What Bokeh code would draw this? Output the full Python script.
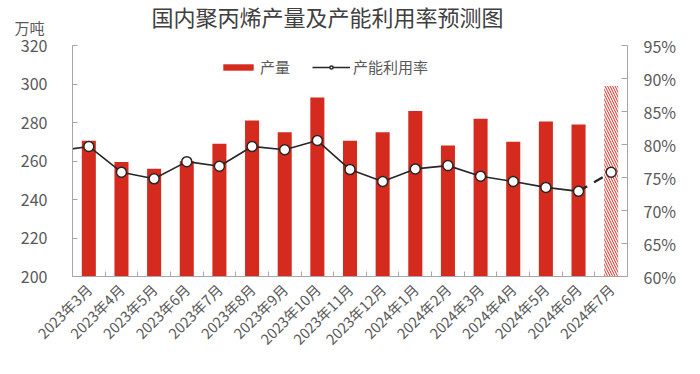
import math
from bokeh.plotting import figure
from bokeh.models import (Range1d, LinearAxis, FixedTicker, Legend, LegendItem,
                          Label, ColumnDataSource, PrintfTickFormatter)
from bokeh.embed import file_html
from bokeh.resources import INLINE

# ---- data ----
months = ["2023年3月", "2023年4月", "2023年5月", "2023年6月", "2023年7月", "2023年8月",
          "2023年9月", "2023年10月", "2023年11月", "2023年12月", "2024年1月", "2024年2月",
          "2024年3月", "2024年4月", "2024年5月", "2024年6月", "2024年7月"]
output = [270.5, 259.5, 256, 260, 269, 281, 275, 293, 270.5, 275, 286, 268,
          282, 270, 280.5, 279, 299]
util = [79.7, 75.8, 74.8, 77.4, 76.7, 79.7, 79.2, 80.6, 76.2, 74.4, 76.3, 76.8,
        75.2, 74.4, 73.5, 72.9, 75.8]
util_prev = 79.0          # previous month (off-chart, only the line enters from the left)
n_actual = 16             # last month is a forecast
left_ticks = [200, 220, 240, 260, 280, 300, 320]
right_ticks = [60, 65, 70, 75, 80, 85, 90, 95]

FONT = "Noto Sans CJK SC"
HDR_FONT = "Lato, 'Noto Sans CJK SC'"
RED = "#D52B1E"
GRAY_TXT = "#595959"
AXIS_COL = "#A6A6A6"

xs = list(range(len(months)))

p = figure(width=684, height=358, output_backend="svg", toolbar_location=None,
           x_range=Range1d(-0.5, len(months) - 0.5), y_range=Range1d(200, 320),
           min_border_left=72, min_border_right=57, min_border_top=45, min_border_bottom=82)
p.extra_y_ranges = {"pct": Range1d(60, 95)}
p.outline_line_color = None
p.xgrid.visible = False
p.ygrid.visible = False
p.background_fill_color = "white"
p.border_fill_color = "white"

# bars
src_a = ColumnDataSource(dict(x=xs[:n_actual], y=output[:n_actual]))
src_f = ColumnDataSource(dict(x=xs[n_actual:], y=output[n_actual:]))
bars = p.vbar(x="x", top="y", bottom=200, width=0.43, source=src_a,
              fill_color=RED, line_color=None)
p.vbar(x="x", top="y", bottom=200, width=0.43, source=src_f,
       fill_color="white", line_color=None, hatch_pattern="left_diagonal_line",
       hatch_color=RED, hatch_scale=5, hatch_weight=1)

# utilisation line
line_x = [-1] + xs[:n_actual]
line_y = [util_prev] + util[:n_actual]
ln = p.line(line_x, line_y, y_range_name="pct", line_color="#262626", line_width=1.6)
p.line(xs[n_actual - 1:], util[n_actual - 1:], y_range_name="pct", line_color="#262626",
       line_width=2.4, line_dash="10 8")
sc = p.scatter(xs, util, y_range_name="pct", size=10, fill_color="white",
               line_color="#262626", line_width=1.5)

# axes
p.xaxis.ticker = FixedTicker(ticks=xs, minor_ticks=[i - 0.5 for i in range(len(months) + 1)])
p.xaxis.major_label_overrides = {i: m for i, m in enumerate(months)}
p.xaxis.major_label_orientation = math.pi / 4
p.xaxis.major_tick_in = 0
p.xaxis.major_tick_out = 0
p.xaxis.minor_tick_in = 5
p.xaxis.minor_tick_out = 0
p.xaxis.minor_tick_line_color = AXIS_COL
p.xaxis.axis_line_color = AXIS_COL
p.xaxis.major_label_text_font = FONT
p.xaxis.major_label_text_font_size = "14.5px"
p.xaxis.major_label_text_color = GRAY_TXT
p.xaxis.major_label_standoff = 10

p.yaxis.ticker = FixedTicker(ticks=left_ticks)
p.yaxis.major_tick_in = 5
p.yaxis.major_tick_out = 0
p.yaxis.minor_tick_line_color = None
p.yaxis.axis_line_color = AXIS_COL
p.yaxis.major_tick_line_color = AXIS_COL
p.yaxis.major_label_text_font = FONT
p.yaxis.major_label_text_font_size = "16px"
p.yaxis.major_label_text_color = GRAY_TXT
p.yaxis.major_label_standoff = 25

ra = LinearAxis(y_range_name="pct", ticker=FixedTicker(ticks=right_ticks),
                formatter=PrintfTickFormatter(format="%d%%"))
ra.major_tick_in = 6
ra.major_tick_out = 0
ra.minor_tick_line_color = None
ra.axis_line_color = AXIS_COL
ra.major_tick_line_color = AXIS_COL
ra.major_label_text_font = FONT
ra.major_label_text_font_size = "16px"
ra.major_label_text_color = GRAY_TXT
ra.major_label_standoff = 16
p.add_layout(ra, "right")

# legend
legend = Legend(items=[LegendItem(label="产量", renderers=[bars]),
                       LegendItem(label="产能利用率", renderers=[ln, sc])],
                orientation="horizontal", location=(147, 199),
                glyph_width=38, glyph_height=8, label_standoff=3, spacing=22,
                padding=0, margin=0, border_line_color=None, background_fill_alpha=0,
                label_text_font=FONT, label_text_font_size="15px",
                label_text_color=GRAY_TXT)
p.add_layout(legend, "center")

# unit label (nearest the frame) and title (outer) in the top panel
p.add_layout(Label(x=-43, y=17.5, x_units="screen", y_units="screen", text="万吨",
                   text_align="center", text_baseline="middle", text_font=HDR_FONT,
                   text_font_size="15px", text_color=GRAY_TXT), "above")
p.add_layout(Label(x=255, y=10, x_units="screen", y_units="screen",
                   text="国内聚丙烯产量及产能利用率预测图", text_align="center",
                   text_baseline="middle", text_font=HDR_FONT, text_font_size="22px",
                   text_color="#404040"), "above")

open("out.html", "w").write(file_html(p, INLINE))
